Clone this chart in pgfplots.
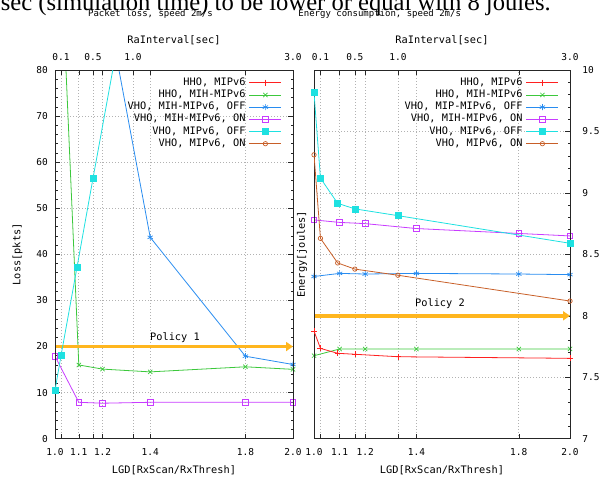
\documentclass[border=0pt]{standalone}
\usepackage{pgfplots}
\pgfplotsset{compat=1.18}
\usepackage{fontspec}
\setmainfont{DejaVu Sans Mono}
\newfontfamily\pageserif{Liberation Serif}
\usetikzlibrary{arrows.meta}

\definecolor{gpred}{RGB}{255,32,32}
\definecolor{gpgreen}{RGB}{60,200,60}
\definecolor{gpblue}{RGB}{40,140,240}
\definecolor{gppurple}{RGB}{200,60,255}
\definecolor{gpcyan}{RGB}{30,225,225}
\definecolor{gporange}{RGB}{200,95,40}
\definecolor{policy}{RGB}{255,182,30}

\pgfplotsset{
  gp/.style={
    scale only axis, anchor=south west, height=368.7pt,
    axis line style={line width=0.9pt, black!85},
    tick style={black!85, line width=0.6pt},
    major tick length=5pt, minor tick length=2.5pt,
    tick align=inside,
    grid style={dash pattern=on 0.8pt off 2.2pt, gray!60, line width=0.7pt},
    tick label style={font=\fontsize{9.5}{11}\selectfont},
    label style={font=\fontsize{10.3}{12}\selectfont},
    title style={font=\fontsize{9}{11}\selectfont, yshift=-6pt},
    /pgf/number format/assume math mode=true,
    every axis plot/.append style={line width=0.8pt, mark options={solid, line width=0.7pt}},
    legend style={at={(axis description cs:1,1)}, anchor=north east,
      xshift=-11pt, yshift=-7pt, draw=none, fill=none, inner sep=0pt,
      font=\fontsize{10.3}{12}\selectfont,
      nodes={inner sep=0.5pt, text height=7.5pt, text depth=2.5pt},
      row sep=1.2pt, column sep=3pt},
    legend cell align=right, legend plot pos=right,
    legend image code/.code={\draw[mark repeat=2,mark phase=2,##1]
      plot coordinates {(0pt,0pt) (16pt,0pt) (32pt,0pt)};},
  },
  lgd/.style={gp, xmin=1, xmax=2,
    xtick={1,1.1,1.2,1.4,1.8,2}, xticklabels={1.0,1.1,1.2,1.4,1.8,2.0},
    xticklabel style={yshift=-6.5pt},
    extra x ticks={1.0252,1.1597,1.3277}, extra x tick labels={},
    grid=major,
    xlabel={LGD[RxScan/RxThresh]},
    xlabel style={at={(axis description cs:0.5,-0.085)}, anchor=center}},
  ra/.style={gp, xmin=0.025, xmax=3,
    xtick={0.1,0.5,1.0,3.0}, xticklabels={0.1,0.5,1.0,3.0},
    xticklabel pos=upper, xticklabel style={yshift=6pt},
    ytick=\empty,
    xlabel={RaInterval[sec]},
    xlabel style={at={(axis description cs:0.5,1.0814)}, anchor=center}},
  hhomip/.style={color=gpred, mark=+, mark size=3pt},
  hhomih/.style={color=gpgreen, mark=x, mark size=3pt},
  vmihoff/.style={color=gpblue, mark=asterisk, mark size=3pt},
  vmihon/.style={color=gppurple, mark=square, mark size=2.8pt},
  vmipoff/.style={color=gpcyan, mark=square*, mark size=3pt},
  vmipon/.style={color=gporange, mark=o, mark size=2.2pt},
  pol/.style={policy, line width=3.5pt, no markers, forget plot,
    -{Triangle[length=7pt,width=9pt]}},
}

\begin{document}
\begin{tikzpicture}
% piece of the page text above the figure, cut by the page edge
\node[anchor=base east, inner sep=0pt, font=\pageserif\fontsize{24.6}{26}\selectfont]
  at (551pt,469.3pt) {sec (simulation time) to be lower or equal with 8 joules.};

% ---------- left: packet loss ----------
\begin{axis}[lgd, at={(55pt,41.3pt)}, width=238pt,
  ymin=0, ymax=80, ytick={0,10,...,80}, minor y tick num=4,
  yticklabel style={xshift=-3.7pt},
  ylabel={Loss[pkts]},
  ylabel style={at={(axis description cs:-0.1576,0.5)}, anchor=center},
  title={Packet loss, speed 2m/s},
  title style={at={(axis description cs:0.401,1.152)}, anchor=center}]
\addplot[hhomih] coordinates {(1.0,135) (1.1,16.0) (1.2,15.1) (1.4,14.5) (1.8,15.6) (2.0,15.05)};
\addplot[vmihoff] coordinates {(1.0,110) (1.1,105) (1.2,99) (1.4,43.7) (1.8,17.9) (2.0,16.1)};
\addplot[vmihon] coordinates {(1.0,17.9) (1.1,7.9) (1.2,7.7) (1.4,7.9) (1.8,7.9) (2.0,7.9)};
\addplot[pol] coordinates {(1,20) (2,20)};
\node[font=\fontsize{10.3}{12}\selectfont] at (axis cs:1.504,21.9) {Policy 1};
\end{axis}
\begin{axis}[ra, at={(55pt,41.3pt)}, width=238pt, ymin=0, ymax=80]
\addlegendimage{hhomip}
\addlegendimage{hhomih}
\addlegendimage{vmihoff}
\addlegendimage{vmihon}
\addplot[vmipoff] coordinates {(0.025,10.5) (0.1,18.0) (0.3,37.2) (0.5,56.5) (1.0,104) (3.0,100)};
\addlegendimage{vmipon}
\legend{{HHO, MIPv6},{HHO, MIH-MIPv6},{VHO, MIH-MIPv6, OFF},{VHO, MIH-MIPv6, ON},{VHO, MIPv6, OFF},{VHO, MIPv6, ON}}
\end{axis}

% ---------- right: energy ----------
\begin{axis}[lgd, at={(314pt,41.3pt)}, width=256pt,
  ymin=7, ymax=10, ytick={7,7.5,8,8.5,9,9.5,10}, yticklabels={7,7.5,8,8.5,9,9.5,10},
  minor y tick num=4, ytick pos=right, yticklabel pos=right,
  yticklabel style={xshift=8.8pt},
  ylabel={Energy[joules]},
  ylabel style={at={(axis description cs:-0.047,0.5)}, anchor=center},
  title={Energy consumption, speed 2m/s},
  title style={at={(axis description cs:0.2566,1.152)}, anchor=center}]
\addplot[hhomih] coordinates {(1.0,7.675) (1.1,7.73) (1.2,7.73) (1.4,7.73) (1.8,7.73) (2.0,7.73)};
\addplot[vmihoff] coordinates {(1.0,8.32) (1.1,8.345) (1.2,8.34) (1.4,8.345) (1.8,8.34) (2.0,8.335)};
\addplot[vmihon] coordinates {(1.0,8.78) (1.1,8.76) (1.2,8.75) (1.4,8.71) (1.8,8.67) (2.0,8.65)};
\addplot[pol] coordinates {(1,8) (2,8)};
\node[font=\fontsize{10.3}{12}\selectfont] at (axis cs:1.492,8.095) {Policy 2};
\end{axis}
\begin{axis}[ra, at={(314pt,41.3pt)}, width=256pt, ymin=7, ymax=10]
\addplot[hhomip] coordinates {(0.025,7.876) (0.1,7.735) (0.3,7.695) (0.5,7.687) (1.0,7.667) (3.0,7.654)};
\addlegendimage{hhomih}
\addlegendimage{vmihoff}
\addlegendimage{vmihon}
\addplot[vmipoff] coordinates {(0.025,9.815) (0.1,9.12) (0.3,8.915) (0.5,8.87) (1.0,8.815) (3.0,8.59)};
\addplot[vmipon] coordinates {(0.025,9.31) (0.1,8.63) (0.3,8.43) (0.5,8.38) (1.0,8.33) (3.0,8.12)};
\legend{{HHO, MIPv6},{HHO, MIH-MIPv6},{VHO, MIP-MIPv6, OFF},{VHO, MIH-MIPv6, ON},{VHO, MIPv6, OFF},{VHO, MIPv6, ON}}
\end{axis}

\pgfresetboundingbox
\useasboundingbox (0,0) rectangle (613pt,480pt);
\end{tikzpicture}
\end{document}
